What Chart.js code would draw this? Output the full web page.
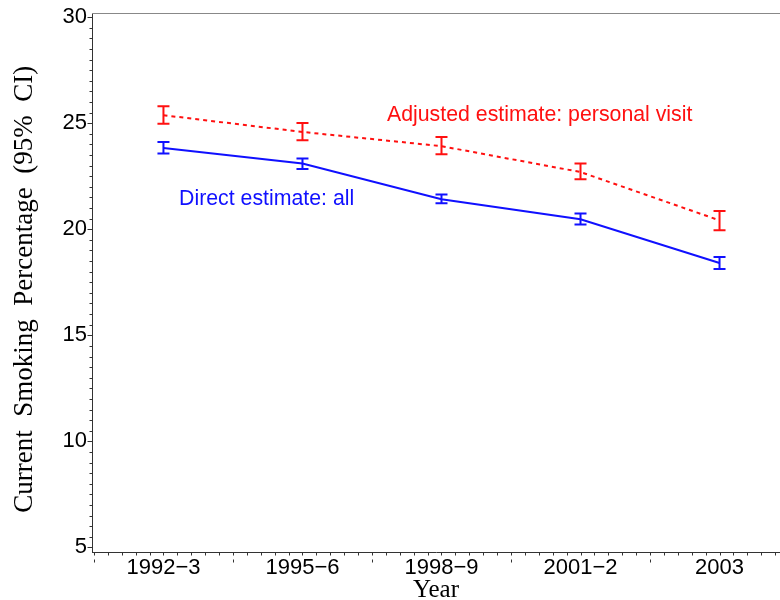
<!DOCTYPE html>
<html>
<head>
<meta charset="utf-8">
<script src="https://cdn.jsdelivr.net/npm/chart.js@4/dist/chart.umd.min.js"></script>
<style>
  html, body { margin: 0; padding: 0; background: #fff; }
  #wrap { width: 780px; height: 600px; }
</style>
</head>
<body>
<div id="wrap"><canvas id="myChart" width="780" height="600"></canvas></div>
<script>
// data
var years = ['1992\u22123', '1995\u22126', '1998\u22129', '2001\u22122', '2003'];
var directEst = [23.83, 23.10, 21.42, 20.47, 18.41];
var directLo = [23.57, 22.84, 21.23, 20.22, 18.13];
var directHi = [24.12, 23.34, 21.64, 20.74, 18.69];
var adjustedEst = [25.38, 24.59, 23.92, 22.70, 20.42];
var adjustedLo = [24.98, 24.20, 23.54, 22.36, 19.95];
var adjustedHi = [25.80, 25.01, 24.35, 23.10, 20.86];
var yTicks = [5, 10, 15, 20, 25, 30];

var RED = '#ff1010';
var BLUE = '#1010ff';

function toPoints(arr) {
    return arr.map(function (v, i) { return { x: i, y: v }; });
}

// error bars (vertical line + caps)
var errorBars = {
    id: 'errorBars',
    afterDatasetsDraw: function (chart) {
        var ctx = chart.ctx;
        var xs = chart.scales.x, ys = chart.scales.y;
        var sets = [
            { lo: adjustedLo, hi: adjustedHi, color: RED },
            { lo: directLo, hi: directHi, color: BLUE }
        ];
        ctx.save();
        ctx.lineWidth = 2;
        sets.forEach(function (s) {
            ctx.strokeStyle = s.color;
            for (var i = 0; i < s.lo.length; i++) {
                var px = xs.getPixelForValue(i);
                var top = ys.getPixelForValue(s.hi[i]);
                var bot = ys.getPixelForValue(s.lo[i]);
                ctx.beginPath();
                ctx.moveTo(px, top); ctx.lineTo(px, bot);
                ctx.moveTo(px - 6, top); ctx.lineTo(px + 6, top);
                ctx.moveTo(px - 6, bot); ctx.lineTo(px + 6, bot);
                ctx.stroke();
            }
        });
        ctx.restore();
    }
};

// frame top line and the small tick marks
var axisMarks = {
    id: 'axisMarks',
    afterDraw: function (chart) {
        var ctx = chart.ctx;
        var a = chart.chartArea;
        var xs = chart.scales.x, ys = chart.scales.y;
        ctx.save();
        ctx.strokeStyle = '#888';
        ctx.lineWidth = 1;
        ctx.beginPath();
        ctx.moveTo(a.left, a.top + 0.5); ctx.lineTo(a.right, a.top + 0.5);
        ctx.stroke();

        ctx.strokeStyle = '#333';
        ctx.beginPath();
        var ax = Math.round(a.left) + 0.5;
        for (var k = 0; k <= 50; k++) {
            var v = 5 + k * 0.5;
            var py = Math.round(ys.getPixelForValue(v)) + 0.5;
            var len = (k % 10 === 0) ? 5 : 3;
            ctx.moveTo(ax - len, py); ctx.lineTo(ax, py);
        }
        var by = Math.round(a.bottom) + 0.5;
        for (var j = 0; j <= 49; j++) {
            var xv = -0.5 + j * 0.1;
            var px = Math.round(xs.getPixelForValue(xv)) + 0.5;
            if (px > a.right) break;
            ctx.moveTo(px, by); ctx.lineTo(px, by + 3);
            if (j % 10 === 0) {
                ctx.moveTo(px, by + 7); ctx.lineTo(px, by + 10);
            }
        }
        ctx.stroke();
        ctx.restore();
    }
};

// in-plot series labels
var seriesLabels = {
    id: 'seriesLabels',
    afterDatasetsDraw: function (chart) {
        var ctx = chart.ctx;
        var xs = chart.scales.x, ys = chart.scales.y;
        ctx.save();
        ctx.font = '21.3px "Liberation Sans", Arial, sans-serif';
        ctx.textBaseline = 'middle';
        ctx.textAlign = 'left';
        ctx.fillStyle = RED;
        ctx.fillText('Adjusted estimate: personal visit', xs.getPixelForValue(1.608), ys.getPixelForValue(25.39));
        ctx.fillStyle = BLUE;
        ctx.fillText('Direct estimate: all', xs.getPixelForValue(0.112), ys.getPixelForValue(21.43));
        ctx.restore();
    }
};

document.addEventListener('DOMContentLoaded', function () {
    var ctx = document.getElementById('myChart').getContext('2d');
    new Chart(ctx, {
        type: 'line',
        data: {
            datasets: [
                {
                    label: 'Adjusted estimate: personal visit',
                    data: toPoints(adjustedEst),
                    borderColor: RED,
                    borderWidth: 2,
                    borderDash: [4, 4],
                    pointRadius: 0,
                    fill: false,
                    tension: 0
                },
                {
                    label: 'Direct estimate: all',
                    data: toPoints(directEst),
                    borderColor: BLUE,
                    borderWidth: 2,
                    pointRadius: 0,
                    fill: false,
                    tension: 0
                }
            ]
        },
        options: {
            responsive: false,
            animation: false,
            layout: { padding: { top: 13, left: 0, right: 0, bottom: 0 } },
            plugins: {
                legend: { display: false },
                tooltip: { enabled: false }
            },
            scales: {
                x: {
                    type: 'linear',
                    min: -0.514,
                    max: 4.435,
                    grid: { display: false, drawTicks: false },
                    border: { display: true, color: '#333', width: 1 },
                    afterBuildTicks: function (scale) {
                        scale.ticks = years.map(function (y, i) { return { value: i }; });
                    },
                    afterFit: function (scale) {
                        scale.height = 48;
                        scale.paddingLeft = 0;
                        scale.paddingRight = 0;
                    },
                    ticks: {
                        padding: 3,
                        color: '#000',
                        maxRotation: 0,
                        autoSkip: false,
                        font: { family: '"Liberation Sans", Arial, sans-serif', size: 22 },
                        callback: function (value) { return years[value]; }
                    },
                    title: {
                        display: true,
                        text: 'Year',
                        color: '#000',
                        font: { family: '"Liberation Serif", "Times New Roman", serif', size: 25, lineHeight: 1 },
                        padding: { top: 0, bottom: -3 }
                    }
                },
                y: {
                    min: 4.78,
                    max: 30.2,
                    grid: { display: false, drawTicks: false },
                    border: { display: true, color: '#333', width: 1 },
                    afterBuildTicks: function (scale) {
                        scale.ticks = yTicks.map(function (v) { return { value: v }; });
                    },
                    afterFit: function (scale) {
                        scale.width = 92;
                        scale.paddingTop = 0;
                        scale.paddingBottom = 0;
                    },
                    ticks: {
                        padding: 5,
                        color: '#000',
                        font: { family: '"Liberation Sans", Arial, sans-serif', size: 22 }
                    },
                    title: {
                        display: true,
                        // trailing spaces nudge the text down a little, like the original
                        text: 'Current  Smoking  Percentage  (95%  CI)  ',
                        color: '#000',
                        font: { family: '"Liberation Serif", "Times New Roman", serif', size: 27 },
                        padding: { top: 9, bottom: 0 }
                    }
                }
            }
        },
        plugins: [errorBars, axisMarks, seriesLabels]
    });
});
</script>
</body>
</html>
